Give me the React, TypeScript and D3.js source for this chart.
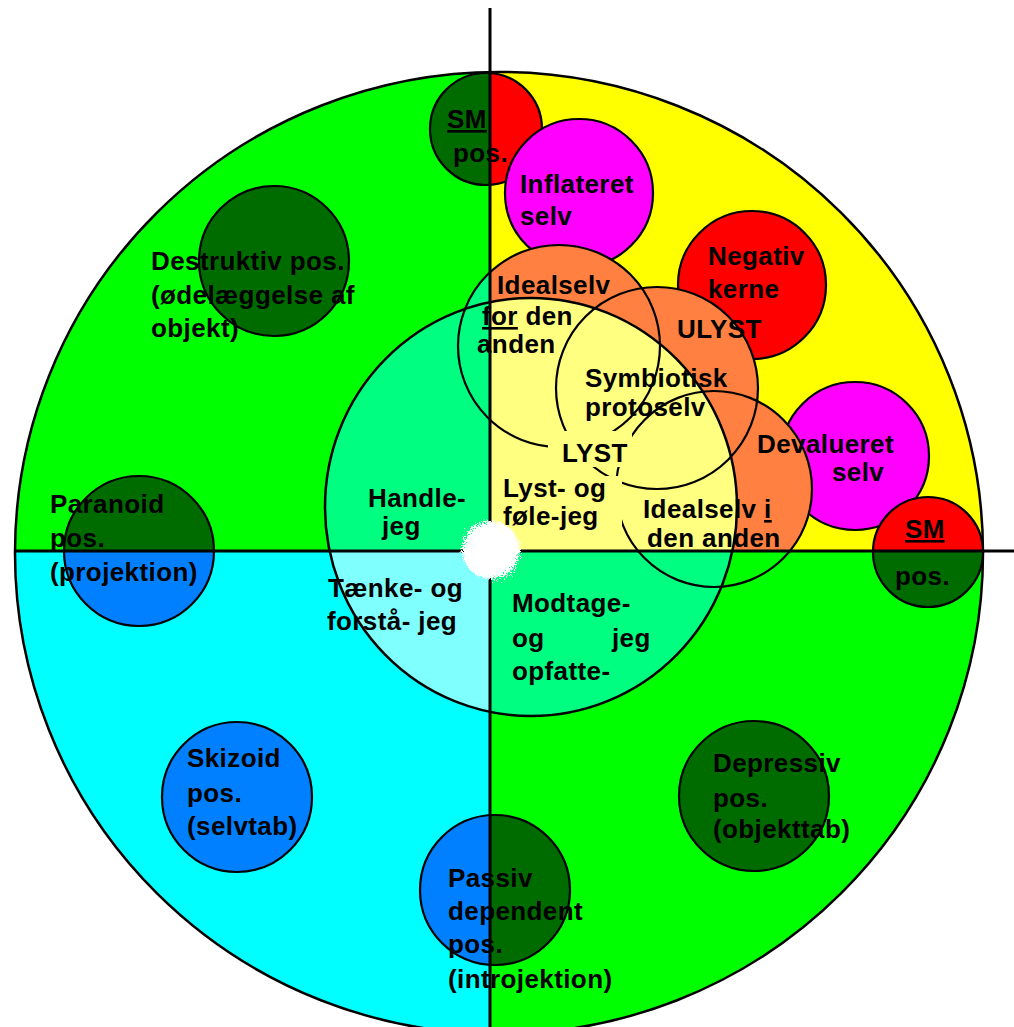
import React, { useEffect, useRef } from "react";
import * as d3 from "d3";

const W = 1014;
const H = 1027;

// colours of the drawing
const LIME = "#00ff00";
const YELLOW = "#ffff00";
const CYAN = "#00ffff";
const MINT = "#00ff80";
const PALE_YELLOW = "#ffff80";
const PALE_CYAN = "#80ffff";
const DARK_GREEN = "#006c00";
const BLUE = "#0080ff";
const RED = "#ff0000";
const MAGENTA = "#ff00ff";
const ORANGE = "#ff8040";

// diagram coordinates: origin where the two axes cross, y grows downward
const outerCircle = { cx: 9, cy: 2, rx: 484, ry: 481 };
const innerCircle = { cx: 41, cy: -44, rx: 206, ry: 209 };

// the outer quarters and the inner quarters: top-left, top-right, bottom-left, bottom-right
const outerQuarterFill = [LIME, YELLOW, CYAN, LIME];
const innerQuarterFill = [MINT, PALE_YELLOW, PALE_CYAN, MINT];

// positions on the outer ring
const ringNames = ["Destruktiv", "Paranoid", "Skizoid", "Depressiv", "Passiv", "SM top", "Inflateret", "Negativ", "Devalueret", "SM højre"];
const ringX = [-216, -351, -253, 264, 5, -4, 89, 262, 365, 438];
const ringY = [-290, 0, 246, 245, 339, -422, -358, -266, -95, 1];
const ringR = [75, 75, 75, 75, 75, 56, 74, 74, 74, 55];
const ringSplit = ["", "h", "", "", "v", "v", "", "", "", "h"];
const ringFillA = [DARK_GREEN, DARK_GREEN, BLUE, DARK_GREEN, BLUE, DARK_GREEN, MAGENTA, RED, MAGENTA, RED];
const ringFillB = [DARK_GREEN, BLUE, BLUE, DARK_GREEN, DARK_GREEN, RED, MAGENTA, RED, MAGENTA, DARK_GREEN];

// the three selves overlapping the inner circle
const selfNames = ["Idealselv for den anden", "Symbiotisk protoselv", "Idealselv i den anden"];
const selfX = [69, 167, 224];
const selfY = [-205, -163, -62];
const selfR = [101, 101, 98];
const selfSplit = ["v", "", "h"];
const selfFillA = [MINT, ORANGE, ORANGE];
const selfFillB = [ORANGE, ORANGE, LIME];

// text: "_word_" is underlined
const labelText = [
  "_SM_", "pos.",
  "Inflateret", "selv",
  "Negativ", "kerne",
  "Destruktiv pos.", "(ødelæggelse af", "objekt)",
  "Idealselv", "_for_ den", "anden",
  "ULYST",
  "Symbiotisk", "protoselv",
  "LYST",
  "Devalueret", "selv",
  "Lyst- og", "føle-jeg",
  "Handle-", "jeg",
  "Idealselv _i_", "den anden",
  "_SM_", "pos.",
  "Paranoid", "pos.", "(projektion)",
  "Tænke- og", "forstå- jeg",
  "Modtage-", "og", "jeg", "opfatte-",
  "Skizoid", "pos.", "(selvtab)",
  "Depressiv", "pos.", "(objekttab)",
  "Passiv", "dependent", "pos.", "(introjektion)",
];
const labelX = [
  -43, -37,
  30, 30,
  218, 218,
  -339, -339, -339,
  7, -8, -13,
  187,
  95, 95,
  72,
  267, 342,
  13, 13,
  -122, -108,
  153, 157,
  415, 405,
  -440, -440, -440,
  -162, -163,
  22, 22, 122, 22,
  -303, -303, -303,
  223, 223, 223,
  -42, -42, -42, -42,
];
const labelY = [
  -423, -389,
  -358, -326,
  -286, -253,
  -281, -247, -214,
  -257, -226, -198,
  -213,
  -164, -135,
  -89,
  -98, -70,
  -54, -26,
  -44, -16,
  -33, -4,
  -13, 34,
  -38, -4, 30,
  46, 79,
  61, 96, 96, 129,
  216, 251, 284,
  221, 256, 287,
  336, 369, 402, 437,
];

// pale boxes behind two labels that cut the arcs
const boxX = [58, 6];
const boxY = [-120, -75];
const boxW = [84, 126];
const boxH = [36, 55];

export default function App() {
  const ref = useRef<SVGSVGElement>(null);

  useEffect(() => {
    const svg = d3.select(ref.current);
    svg.selectAll("*").remove();

    const x = d3.scaleLinear().domain([-490, 524]).range([0, W]);
    const y = d3.scaleLinear().domain([-551, 476]).range([0, H]);
    const len = (v: number) => x(v) - x(0);
    const X0 = x(0);
    const Y0 = y(0);

    const defs = svg.append("defs");
    const clips: Record<string, number[]> = {
      left: [0, 0, X0, H],
      right: [X0, 0, W - X0, H],
      top: [0, 0, W, Y0],
      bottom: [0, Y0, W, H - Y0],
      q0: [0, 0, X0, Y0],
      q1: [X0, 0, W - X0, Y0],
      q2: [0, Y0, X0, H - Y0],
      q3: [X0, Y0, W - X0, H - Y0],
    };
    Object.entries(clips).forEach(([id, r]) => {
      defs
        .append("clipPath")
        .attr("id", "clip-" + id)
        .append("rect")
        .attr("x", r[0])
        .attr("y", r[1])
        .attr("width", r[2])
        .attr("height", r[3]);
    });

    const fuzz = defs.append("filter").attr("id", "fuzz").attr("x", "-60%").attr("y", "-60%").attr("width", "220%").attr("height", "220%");
    fuzz.append("feTurbulence").attr("type", "fractalNoise").attr("baseFrequency", 0.9).attr("numOctaves", 2).attr("result", "noise");
    fuzz.append("feDisplacementMap").attr("in", "SourceGraphic").attr("in2", "noise").attr("scale", 14);

    const g = svg.append("g");

    const disc = (cx: number, cy: number, r: number, fill: string, clip: string | null) =>
      g
        .append("circle")
        .attr("cx", x(cx))
        .attr("cy", y(cy))
        .attr("r", len(r))
        .attr("fill", fill)
        .attr("stroke", "none")
        .attr("clip-path", clip ? `url(#clip-${clip})` : null);

    const ring = (cx: number, cy: number, r: number, w = 2.2) =>
      g
        .append("circle")
        .attr("cx", x(cx))
        .attr("cy", y(cy))
        .attr("r", len(r))
        .attr("fill", "none")
        .attr("stroke", "#000")
        .attr("stroke-width", w);

    const oval = (e: { cx: number; cy: number; rx: number; ry: number }) =>
      g
        .append("ellipse")
        .attr("cx", x(e.cx))
        .attr("cy", y(e.cy))
        .attr("rx", len(e.rx))
        .attr("ry", len(e.ry));

    const split = (cx: number, cy: number, r: number, kind: string, a: string, b: string) => {
      if (kind === "h") {
        disc(cx, cy, r, a, "top");
        disc(cx, cy, r, b, "bottom");
      } else if (kind === "v") {
        disc(cx, cy, r, a, "left");
        disc(cx, cy, r, b, "right");
      } else {
        disc(cx, cy, r, a, null);
      }
    };

    // outer disc in four quarters
    outerQuarterFill.forEach((c, i) => {
      oval(outerCircle).attr("fill", c).attr("clip-path", `url(#clip-q${i})`);
    });
    oval(outerCircle).attr("fill", "none").attr("stroke", "#000").attr("stroke-width", 2.5);

    // positions on the ring
    ringNames.forEach((_, i) => {
      split(ringX[i], ringY[i], ringR[i], ringSplit[i], ringFillA[i], ringFillB[i]);
      ring(ringX[i], ringY[i], ringR[i]);
    });

    // the selves, then the inner circle over them
    selfNames.forEach((_, i) => split(selfX[i], selfY[i], selfR[i], selfSplit[i], selfFillA[i], selfFillB[i]));
    innerQuarterFill.forEach((c, i) => {
      oval(innerCircle).attr("fill", c).attr("clip-path", `url(#clip-q${i})`);
    });
    selfNames.forEach((_, i) => ring(selfX[i], selfY[i], selfR[i]));
    oval(innerCircle).attr("fill", "none").attr("stroke", "#000").attr("stroke-width", 2.5);

    boxX.forEach((bx, i) => {
      g.append("rect")
        .attr("x", x(bx))
        .attr("y", y(boxY[i]))
        .attr("width", len(boxW[i]))
        .attr("height", len(boxH[i]))
        .attr("fill", PALE_YELLOW);
    });

    // axes
    g.append("line").attr("x1", X0).attr("x2", X0).attr("y1", y(-543)).attr("y2", H).attr("stroke", "#000").attr("stroke-width", 3);
    g.append("line").attr("x1", x(-476)).attr("x2", W).attr("y1", Y0).attr("y2", Y0).attr("stroke", "#000").attr("stroke-width", 3);

    // white centre
    g.append("circle").attr("cx", x(1)).attr("cy", y(-1)).attr("r", len(29)).attr("fill", "#fff").attr("filter", "url(#fuzz)");

    // labels
    const text = g
      .append("g")
      .attr("font-family", "'Liberation Sans', Arial, sans-serif")
      .attr("font-weight", "bold")
      .attr("font-size", 26)
      .attr("letter-spacing", 0.4)
      .attr("fill", "#000");
    labelText.forEach((t, i) => {
      const el = text.append("text").attr("x", x(labelX[i])).attr("y", y(labelY[i])).attr("xml:space", "preserve");
      t.split("_").forEach((part, k) => {
        if (!part) return;
        el.append("tspan")
          .text(part)
          .style("text-decoration", k % 2 === 1 ? "underline" : "none");
      });
    });
  }, []);

  return (
    <svg
      ref={ref}
      width={W}
      height={H}
      viewBox={`0 0 ${W} ${H}`}
      style={{ position: "absolute", left: 0, top: 0, background: "#fff" }}
    />
  );
}
